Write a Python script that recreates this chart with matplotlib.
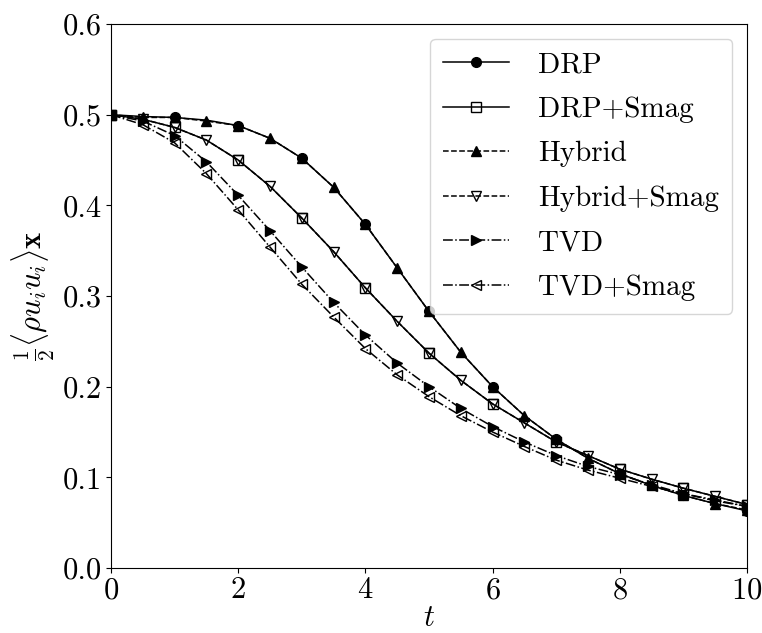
import matplotlib
matplotlib.use("Agg")
import matplotlib.pyplot as plt
import numpy as np

plt.rcParams["font.family"] = "serif"
plt.rcParams["font.serif"] = ["cmr10", "DejaVu Serif"]
plt.rcParams["mathtext.fontset"] = "cm"
plt.rcParams["axes.formatter.use_mathtext"] = True

# tiempo (muestreo cada 0.5)
t = np.arange(0, 10.01, 0.5)

drp = [0.500, 0.498, 0.497, 0.494, 0.488, 0.474, 0.452, 0.420, 0.379, 0.331,
       0.283, 0.238, 0.200, 0.168, 0.142, 0.121, 0.104, 0.091, 0.080, 0.071, 0.063]
drp_smag = [0.500, 0.495, 0.486, 0.472, 0.450, 0.421, 0.386, 0.349, 0.309, 0.272,
            0.237, 0.207, 0.181, 0.160, 0.139, 0.124, 0.109, 0.098, 0.088, 0.079, 0.070]
hybrid = [0.500, 0.497, 0.497, 0.493, 0.488, 0.474, 0.452, 0.420, 0.379, 0.331,
          0.283, 0.238, 0.200, 0.168, 0.142, 0.121, 0.104, 0.091, 0.080, 0.071, 0.064]
hybrid_smag = [0.500, 0.495, 0.486, 0.472, 0.450, 0.421, 0.386, 0.349, 0.309, 0.272,
               0.237, 0.207, 0.181, 0.160, 0.139, 0.124, 0.109, 0.098, 0.088, 0.079, 0.070]
tvd = [0.500, 0.493, 0.477, 0.448, 0.411, 0.372, 0.332, 0.293, 0.257, 0.226,
       0.200, 0.176, 0.156, 0.139, 0.124, 0.112, 0.103, 0.092, 0.082, 0.075, 0.068]
tvd_smag = [0.500, 0.489, 0.469, 0.435, 0.395, 0.354, 0.313, 0.277, 0.242, 0.213,
            0.189, 0.168, 0.150, 0.134, 0.119, 0.108, 0.099, 0.090, 0.082, 0.074, 0.068]

fig = plt.figure(figsize=(7.62, 6.33), dpi=100)
ax = fig.add_axes([0.1457, 0.1027, 0.8346, 0.8593])

lw = 1.1
ms = 7
ax.plot(t, drp, "-", color="k", lw=lw, marker="o", ms=ms, markevery=2, label="DRP")
ax.plot(t, drp_smag, "-", color="k", lw=lw, marker="s", ms=ms, mfc="none",
        markevery=2, label="DRP+Smag")
ax.plot(t, hybrid, "--", color="k", lw=lw, marker="^", ms=ms, markevery=1, label="Hybrid")
ax.plot(t, hybrid_smag, "--", color="k", lw=lw, marker="v", ms=ms, mfc="none",
        markevery=1, label="Hybrid+Smag")
ax.plot(t, tvd, "-.", color="k", lw=lw, marker=">", ms=ms, label="TVD")
ax.plot(t, tvd_smag, "-.", color="k", lw=lw, marker="<", ms=ms, mfc="none",
        label="TVD+Smag")

ax.set_xlim(0, 10)
ax.set_ylim(0, 0.6)
ax.set_xticks(range(0, 11, 2))
ax.set_yticks(np.arange(0, 0.61, 0.1))
ax.set_yticklabels([f"{v:.1f}" for v in np.arange(0, 0.61, 0.1)])
ax.tick_params(labelsize=22, pad=3)
ax.set_xlabel(r"$t$", fontsize=22, labelpad=0)
ax.set_ylabel(r"$\frac{1}{2}\langle \rho u_i u_i\rangle \mathbf{x}$", fontsize=22, labelpad=4)

ax.legend(loc="upper right", fontsize=21, handlelength=2.25, handletextpad=1.0,
          borderaxespad=0.5, labelspacing=0.62, borderpad=0.45)

fig.savefig("out.png", dpi=100)
